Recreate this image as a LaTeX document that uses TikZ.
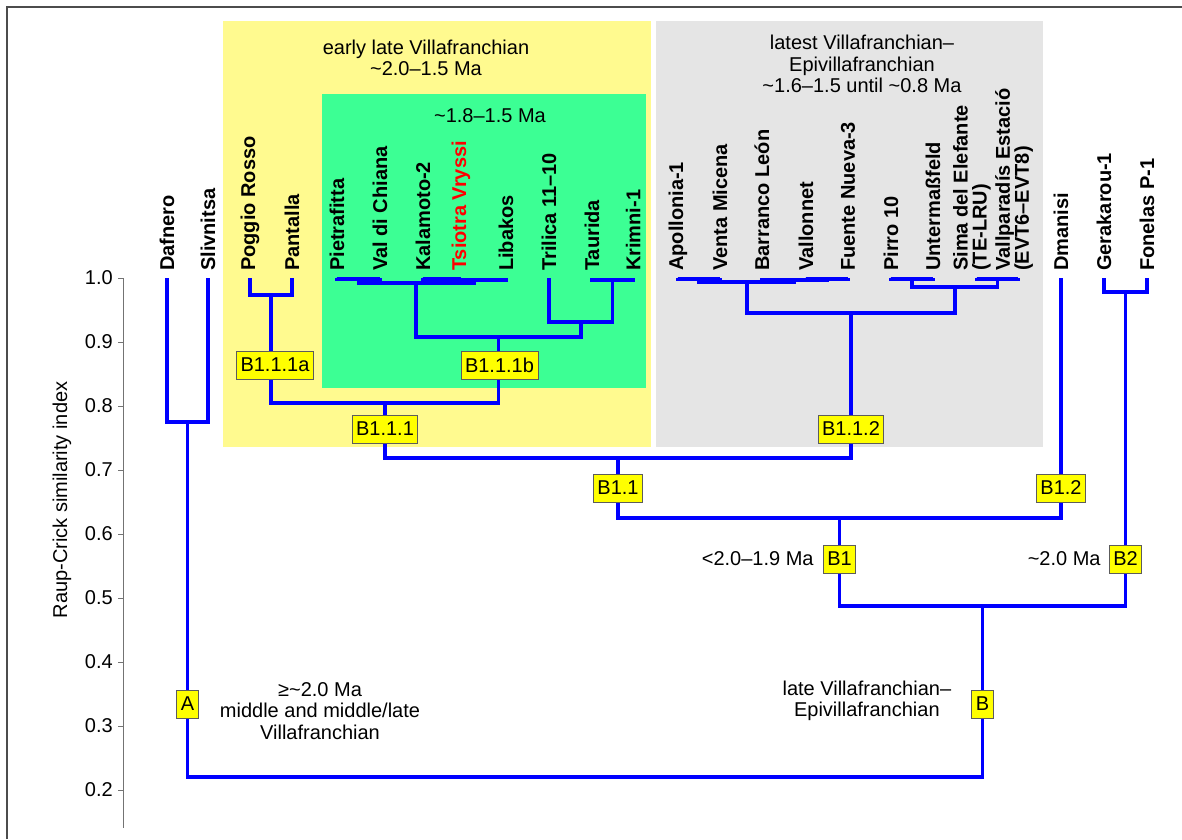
\documentclass[tikz,border=0pt]{standalone}
\usepackage{fontspec}
\setmainfont{Liberation Sans}
\usepackage{xcolor}
\usepackage{tikz}
\usetikzlibrary{positioning}
\definecolor{treeblue}{HTML}{0000FF}
\definecolor{earlyzone}{HTML}{FFFA8F}
\definecolor{greenzone}{HTML}{3CFF94}
\definecolor{latezone}{HTML}{E5E5E5}
\definecolor{tagfill}{HTML}{FFFF00}
\definecolor{dark}{HTML}{333333}
\tikzset{
    branch/.style={draw=treeblue, line width=3.2pt},
    leaf/.style={rotate=90, anchor=west, inner sep=0pt, font=\fontsize{20}{19}\selectfont\bfseries},
    tag/.style={rectangle, draw=dark!80, fill=tagfill, line width=0.9pt, inner xsep=4pt, inner ysep=0pt, minimum height=28pt, font=\fontsize{20}{22}\selectfont},
    note/.style={align=center, inner sep=0pt, font=\fontsize{20}{21.5}\selectfont},
    tick/.style={anchor=east, inner sep=0pt, font=\fontsize{20}{22}\selectfont},
    axis/.style={draw=black!55, line width=0.9pt},
    frame/.style={draw=black!70, line width=1.6pt}
}

\begin{document}
\begin{tikzpicture}[x=1pt, y=-1pt]
\useasboundingbox (0,0) rectangle (1182,839);

% ── Zones ──
\fill[earlyzone] (223,21) rectangle (651,447);
\fill[greenzone] (322,94) rectangle (646,388);
\fill[latezone] (656,21) rectangle (1043,447);
\draw[frame] (7,839) -- (7,7) -- (1182,7);

% ── Axis ──
\draw[axis] (123,278) -- (123,828);
\foreach \v [count=\i] in {1.0,0.9,0.8,0.7,0.6,0.5,0.4,0.3,0.2} {
    \draw[axis] (118,{278+(1-\v)*640}) -- (123,{278+(1-\v)*640});
    \node[tick] (tick-\i) at (113,{278+(1-\v)*640}) {\v};
}
\node[note, rotate=90] (ytitle) at (62,500) {Raup-Crick similarity index};

% ── Zone captions ──
\node[note] (early) at (426,58) {early late Villafranchian\\\textasciitilde 2.0–1.5 Ma};
\node[note] (middle) at (490,116) {\textasciitilde 1.8–1.5 Ma};
\node[note] (latest) at (862,64) {latest Villafranchian–\\Epivillafranchian\\\textasciitilde 1.6–1.5 until \textasciitilde 0.8 Ma};

% ── Leaves ──
\coordinate (dafnero) at (167,278);
\coordinate (slivnitsa) at (208,278);
\coordinate (poggio) at (250,278);
\coordinate (pantalla) at (292,278);
\coordinate (pietrafitta) at (337,278);
\coordinate (valchiana) at (380,278);
\coordinate (kalamoto) at (423,278);
\coordinate (tsiotra) at (461,278);
\coordinate (libakos) at (506,278);
\coordinate (trilica) at (549,278);
\coordinate (taurida) at (592,278);
\coordinate (krimni) at (633,278);
\coordinate (apollonia) at (678,278);
\coordinate (venta) at (720,278);
\coordinate (barranco) at (762,278);
\coordinate (vallonnet) at (806,278);
\coordinate (fuente) at (848,278);
\coordinate (pirro) at (891,278);
\coordinate (untermass) at (933,278);
\coordinate (sima) at (977,278);
\coordinate (vallparadis) at (1018,278);
\coordinate (dmanisi) at (1061,278);
\coordinate (gerakarou) at (1104,278);
\coordinate (fonelas) at (1147,278);

\node[leaf] (t-dafnero) at ([yshift=7pt]dafnero) {Dafnero};
\node[leaf] (t-slivnitsa) at ([yshift=7pt]slivnitsa) {Slivnitsa};
\node[leaf] (t-poggio) at ([yshift=7pt]poggio) {Poggio Rosso};
\node[leaf] (t-pantalla) at ([yshift=7pt]pantalla) {Pantalla};
\node[leaf] (t-pietrafitta) at ([yshift=7pt]pietrafitta) {Pietrafitta};
\node[leaf] (t-valchiana) at ([yshift=7pt]valchiana) {Val di Chiana};
\node[leaf] (t-kalamoto) at ([yshift=7pt]kalamoto) {Kalamoto-2};
\node[leaf, text=red] (t-tsiotra) at ([yshift=7pt]tsiotra) {Tsiotra Vryssi};
\node[leaf] (t-libakos) at ([yshift=7pt]libakos) {Libakos};
\node[leaf] (t-trilica) at ([yshift=7pt]trilica) {Trilica 11–10};
\node[leaf] (t-taurida) at ([yshift=7pt]taurida) {Taurida};
\node[leaf] (t-krimni) at ([yshift=7pt]krimni) {Krimni-1};
\node[leaf] (t-apollonia) at ([yshift=7pt]apollonia) {Apollonia-1};
\node[leaf] (t-venta) at ([yshift=7pt]venta) {Venta Micena};
\node[leaf] (t-barranco) at ([yshift=7pt]barranco) {Barranco León};
\node[leaf] (t-vallonnet) at ([yshift=7pt]vallonnet) {Vallonnet};
\node[leaf] (t-fuente) at ([yshift=7pt]fuente) {Fuente Nueva-3};
\node[leaf] (t-pirro) at ([yshift=7pt]pirro) {Pirro 10};
\node[leaf] (t-untermass) at ([yshift=7pt]untermass) {Untermaßfeld};
\node[leaf, align=left] (t-sima) at ([xshift=-5pt, yshift=7pt]sima) {Sima del Elefante\\(TE-LRU)};
\node[leaf, align=left] (t-vallparadis) at ([xshift=-4pt, yshift=7pt]vallparadis) {Vallparadís Estació\\(EVT6–EVT8)};
\node[leaf] (t-dmanisi) at ([yshift=7pt]dmanisi) {Dmanisi};
\node[leaf] (t-gerakarou) at ([yshift=7pt]gerakarou) {Gerakarou-1};
\node[leaf] (t-fonelas) at ([yshift=7pt]fonelas) {Fonelas P-1};

% ── Joins ──
\coordinate (jDS) at (187.5,422);
\coordinate (jPP) at (271,295);
\coordinate (jPV) at (358.5,279);
\coordinate (jKT) at (442,279);
\coordinate (jKTL) at (474,280);
\coordinate (jPVKTL) at (416,283);
\coordinate (jTK) at (612.5,280);
\coordinate (jTTK) at (581,322);
\coordinate (jGreen) at (498.5,337);
\coordinate (jB111) at (385,403);
\coordinate (jAV) at (699,279);
\coordinate (jVF) at (827,279);
\coordinate (jBVF) at (794.5,280);
\coordinate (jAVBF) at (747,282);
\coordinate (jPU) at (912,279);
\coordinate (jSV) at (997.5,279);
\coordinate (jPUSV) at (955,287);
\coordinate (jB112) at (851,313);
\coordinate (jB11) at (618,458);
\coordinate (jB1) at (839.5,518);
\coordinate (jGF) at (1125.5,292);
\coordinate (jB) at (982.5,606);
\coordinate (jRoot) at (585,777);

% ── Branches ──
\draw[branch] (dafnero) |- (jDS) -| (slivnitsa);
\draw[branch] (poggio) |- (jPP) -| (pantalla);
\draw[branch] (pietrafitta) |- (jPV) -| (valchiana);
\draw[branch] (kalamoto) |- (jKT) -| (tsiotra);
\draw[branch] (jKT) |- (jKTL) -| (libakos);
\draw[branch] (jPV) |- (jPVKTL) -| (jKTL);
\draw[branch] (taurida) |- (jTK) -| (krimni);
\draw[branch] (trilica) |- (jTTK) -| (jTK);
\draw[branch] (jPVKTL) |- (jGreen) -| (jTTK);
\draw[branch] (jPP) |- (jB111) -| (jGreen);
\draw[branch] (apollonia) |- (jAV) -| (venta);
\draw[branch] (vallonnet) |- (jVF) -| (fuente);
\draw[branch] (barranco) |- (jBVF) -| (jVF);
\draw[branch] (jAV) |- (jAVBF) -| (jBVF);
\draw[branch] (pirro) |- (jPU) -| (untermass);
\draw[branch] (sima) |- (jSV) -| (vallparadis);
\draw[branch] (jPU) |- (jPUSV) -| (jSV);
\draw[branch] (jAVBF) |- (jB112) -| (jPUSV);
\draw[branch] (jB111) |- (jB11) -| (jB112);
\draw[branch] (jB11) |- (jB1) -| (dmanisi);
\draw[branch] (gerakarou) |- (jGF) -| (fonelas);
\draw[branch] (jB1) |- (jB) -| (jGF);
\draw[branch] (jDS) |- (jRoot) -| (jB);

% ── Cluster tags ──
\node[tag] (tA) at (187.5,704) {A};
\node[tag] (tB) at (982.5,704) {B};
\node[tag] (tB1) at (839.5,559) {B1};
\node[tag] (tB2) at (1125.5,559) {B2};
\node[tag] (tB11) at (618,488) {B1.1};
\node[tag] (tB12) at (1061,488) {B1.2};
\node[tag] (tB111) at (385,429) {B1.1.1};
\node[tag] (tB112) at (851,429) {B1.1.2};
\node[tag] (tB111a) at (275,365) {B1.1.1a};
\node[tag] (tB111b) at (499.5,365) {B1.1.1b};

% ── Ages ──
\node[note] (ageA) at (320,711) {≥\textasciitilde 2.0 Ma\\middle and middle/late\\Villafranchian};
\node[note, left=9pt of tB1] (ageB1) {<2.0–1.9 Ma};
\node[note, left=8pt of tB2] (ageB2) {\textasciitilde 2.0 Ma};
\node[note, left=20pt of tB, yshift=3pt] (ageB) {late Villafranchian–\\Epivillafranchian};

\end{tikzpicture}
\end{document}
